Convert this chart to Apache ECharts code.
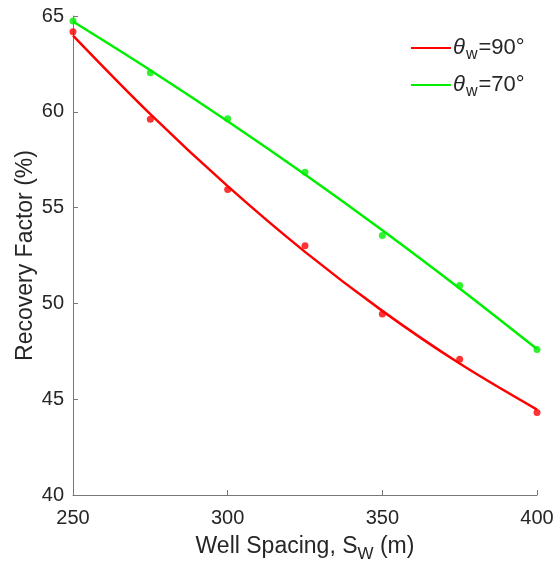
<!DOCTYPE html>
<html>
<head>
<meta charset="utf-8">
<script src="https://cdn.jsdelivr.net/npm/echarts@6/dist/echarts.min.js"></script>
<style>
  html, body { margin: 0; padding: 0; background: #fff; }
  #chart { width: 555px; height: 568px; }
</style>
</head>
<body>
<div id="chart"></div>
<script>
// Well spacing (m) at which recovery was simulated
const spacing = [250, 275, 300, 325, 350, 375, 400];

// Simulated recovery factor (%)
const rf90 = [64.18, 59.61, 55.95, 53.01, 49.45, 47.08, 44.31];
const rf70 = [64.74, 62.04, 59.64, 56.84, 53.55, 50.93, 47.60];

// Fitted trend curves (%), sampled at the same spacings
const fit90 = [63.98, 59.88, 56.12, 52.69, 49.61, 46.86, 44.46];
const fit70 = [64.71, 62.17, 59.51, 56.73, 53.82, 50.78, 47.62];

const xTicks = [250, 300, 350, 400];
const yTicks = [40, 45, 50, 55, 60, 65];

const RED = '#ff0000';
const GREEN = '#00ee00';
const AXIS = '#777777';
const TEXT = '#262626';
const FONT = '"Liberation Sans", Arial, Helvetica, sans-serif';

const pairs = (xs, ys) => xs.map((x, i) => [x, ys[i]]);

const chart = echarts.init(document.getElementById('chart'));

const legendRich = {
  th: { fontFamily: FONT, fontStyle: 'italic', fontSize: 22, color: TEXT },
  sub: { fontFamily: FONT, fontSize: 16, color: TEXT, verticalAlign: 'bottom', padding: [14, 0, 0, 1] },
  t: { fontFamily: FONT, fontSize: 22, color: TEXT, padding: [0, 0, 0, 1] }
};

chart.setOption({
  animation: false,
  backgroundColor: '#fff',
  grid: {
    left: 73, right: 18, top: 16, bottom: 73,
    containLabel: false, outerBoundsMode: 'none'
  },
  legend: {
    left: 406,
    top: 32,
    orient: 'vertical',
    itemGap: 11,
    itemWidth: 40,
    itemHeight: 2,
    icon: 'rect',
    data: ['90', '70'],
    formatter: name => '{th|θ}{sub|w}{t|=' + name + '°}',
    textStyle: { padding: [0, 0, 0, -3], rich: legendRich }
  },
  xAxis: {
    type: 'value',
    min: xTicks[0],
    max: xTicks[xTicks.length - 1],
    interval: 50,
    name: '{t|Well Spacing, S}{sub|W}{t| (m)}',
    nameLocation: 'middle',
    nameGap: 35,
    nameTextStyle: {
      rich: {
        t: { fontFamily: FONT, fontSize: 23, color: TEXT },
        sub: { fontFamily: FONT, fontSize: 17, color: TEXT, verticalAlign: 'bottom', padding: [16, 0, 0, 0] }
      }
    },
    axisLine: { show: true, lineStyle: { color: AXIS, width: 1 } },
    axisTick: { show: true, inside: true, length: 5, lineStyle: { color: AXIS } },
    axisLabel: { fontFamily: FONT, fontSize: 20, color: TEXT, margin: 13 },
    splitLine: { show: false }
  },
  yAxis: {
    type: 'value',
    min: yTicks[0],
    max: yTicks[yTicks.length - 1],
    interval: 5,
    name: 'Recovery Factor (%)',
    nameLocation: 'middle',
    nameGap: 36,
    nameMoveOverlap: false,
    nameTextStyle: { fontFamily: FONT, fontSize: 23, color: TEXT },
    axisLine: { show: true, lineStyle: { color: AXIS, width: 1 } },
    axisTick: { show: true, inside: true, length: 5, lineStyle: { color: AXIS } },
    axisLabel: { fontFamily: FONT, fontSize: 20, color: TEXT, margin: 9 },
    splitLine: { show: false }
  },
  series: [
    {
      name: '90', type: 'line', data: pairs(spacing, fit90),
      smooth: 0.35, showSymbol: false, symbol: 'none',
      lineStyle: { color: RED, width: 2.5 }, itemStyle: { color: RED }, z: 2
    },
    {
      name: '70', type: 'line', data: pairs(spacing, fit70),
      smooth: 0.35, showSymbol: false, symbol: 'none',
      lineStyle: { color: GREEN, width: 2.5 }, itemStyle: { color: GREEN }, z: 2
    },
    {
      name: 'rf90', type: 'scatter', data: pairs(spacing, rf90),
      symbol: 'circle', symbolSize: 7, itemStyle: { color: RED }, z: 3
    },
    {
      name: 'rf70', type: 'scatter', data: pairs(spacing, rf70),
      symbol: 'circle', symbolSize: 7, itemStyle: { color: GREEN }, z: 3
    }
  ]
});
</script>
</body>
</html>
